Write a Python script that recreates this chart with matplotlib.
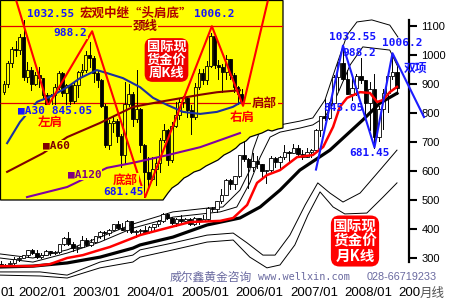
import matplotlib
matplotlib.use('Agg')
import matplotlib.pyplot as plt
from matplotlib.patches import Polygon, Rectangle

plt.rcParams['font.family'] = ['Liberation Sans', 'Noto Sans CJK SC', 'DejaVu Sans']
CJK = ['Noto Sans CJK SC', 'DejaVu Sans']
MONO = ['DejaVu Sans Mono', 'DejaVu Sans']

# ---- monthly candles, 2001/10 .. 2009/03 (month index: 2001/01 = 0)
month0 = 9
m_open = [274, 279, 275, 278, 282, 297, 301, 309, 326, 318, 304, 312, 323, 317, 319,
          347, 368, 348, 334, 337, 361, 346, 354, 375, 388, 386, 398,
          417, 403, 397, 427, 388, 393, 395, 391, 407, 416, 429, 453,
          438, 422, 435, 428, 435, 417, 437, 429, 433, 473, 470, 495,
          517, 569, 556, 582, 654, 643, 613, 633, 623, 599, 604, 646,
          632, 650, 665, 663, 680, 659, 650, 665, 673, 743, 789, 783,
          834, 923, 972, 917, 865, 886, 926, 913, 833, 884, 718, 815,
          870, 927, 942]
m_high = [293, 288, 281, 288, 303, 304, 311, 328, 330, 328, 316, 327, 325, 324, 350,
          372, 389, 354, 341, 375, 370, 364, 377, 393, 394, 400, 417,
          428, 419, 430, 428, 396, 399, 409, 411, 417, 430, 455, 456,
          441, 438, 447, 438, 437, 443, 438, 448, 475, 477, 497, 539,
          571, 572, 584, 654, 730, 645, 663, 652, 625, 605, 651, 649,
          653, 690, 669, 693, 690, 671, 680, 676, 745, 790, 848, 838,
          932, 975, 1032, 948, 932, 935, 988, 915, 906, 934, 825, 882,
          933, 1006, 960]
m_low = [274, 270, 272, 277, 281, 290, 299, 305, 315, 301, 300, 310, 312, 314, 316,
         344, 346, 323, 320, 337, 342, 341, 351, 370, 364, 380, 397,
         399, 396, 390, 385, 371, 381, 387, 387, 398, 410, 424, 434,
         417, 412, 425, 422, 414, 414, 418, 429, 431, 463, 457, 489,
         517, 537, 537, 578, 636, 542, 601, 609, 573, 560, 596, 613,
         603, 643, 635, 661, 650, 641, 647, 648, 670, 722, 775, 780,
         834, 880, 914, 865, 845, 863, 905, 786, 740, 681, 705, 745,
         802, 917, 865]
m_close = [279, 275, 277, 282, 297, 301, 309, 326, 318, 304, 312, 323, 317, 319, 347,
           368, 348, 334, 337, 361, 346, 354, 375, 388, 386, 398, 417,
           403, 397, 427, 388, 393, 395, 391, 407, 416, 429, 453, 438,
           422, 435, 428, 435, 417, 437, 429, 433, 473, 470, 495, 517,
           569, 556, 582, 654, 643, 613, 633, 623, 599, 604, 646, 632,
           650, 665, 663, 680, 659, 650, 665, 673, 743, 789, 783, 834,
           923, 972, 917, 865, 886, 926, 913, 833, 884, 718, 815, 870,
           927, 942, 885]

# moving average lines (month, price)
red_m = [9.8, 17.1, 20.9, 24.7, 28.2, 32, 34.2, 39.3, 40.9, 45.3, 52, 58.7, 61.6, 64.7, 66.9,
         69.1, 72, 75.8, 79.3, 81.6, 83.8, 85.3, 86.9, 89.8, 92, 93.6, 94.9, 96.4, 98]
red_p = [272, 272, 279, 300, 310, 328, 338, 369, 379, 397, 424, 428, 438, 483, 559,
         586, 603, 648, 655, 683, 752, 821, 852, 872, 869, 838, 845, 872, 890]
blk_m = [9.8, 17.1, 24.7, 32, 39.3, 40.9, 48.2, 55.8, 63.1, 67.6, 72, 76.4, 83.1, 90.4, 94.2, 98]
blk_p = [269, 272, 283, 303, 334, 345, 372, 414, 438, 476, 534, 603, 672, 776, 834, 868]

# envelope lines (two above, two below)
u1_m = [9.8, 17.1, 24.7, 32, 39.3, 48.2, 55.8, 59.3, 63.1, 65.3, 66, 68, 72, 76.4, 79.3,
        82, 84.2, 86.9, 89.1, 92.4, 96.4, 98.2]
u1_p = [314, 300, 328, 372, 417, 459, 472, 476, 534, 603, 672, 759, 759, 772, 783,
        845, 948, 1069, 1114, 1121, 1103, 1062]
u2_m = [9.8, 17.1, 24.7, 32, 39.3, 48.2, 58.7, 62.4, 65.3, 67.6, 69.8, 72, 76.4, 79.3,
        82, 84.7, 87.6, 90.4, 96.4, 98.2]
u2_p = [300, 286, 317, 355, 403, 441, 459, 476, 559, 648, 717, 734, 748, 759,
        786, 862, 966, 1028, 1017, 959]
l1_m = [9.8, 18.7, 24.7, 32, 39.3, 40.9, 48.2, 55.8, 61.6, 64.7, 68.2, 70.9, 74.2, 77.6,
        80.4, 83.1, 86, 89.8, 94.2, 98]
l1_p = [252, 252, 241, 286, 310, 328, 352, 379, 386, 352, 310, 310, 379, 483,
        559, 524, 493, 524, 603, 672]
l2_m = [9.8, 18.7, 24.7, 32, 39.3, 40.9, 48.2, 55.8, 61.6, 65.3, 69.1, 72, 75.3, 78.2,
        80.9, 83.8, 86.4, 91.3, 94.9, 98]
l2_p = [241, 238, 231, 266, 286, 303, 328, 355, 362, 303, 266, 276, 345, 448,
        528, 476, 452, 455, 510, 559]

# double-top sketch on the monthly chart
zig_m = [80, 86, 93, 97, 104]
zig_p = [605, 1032.55, 681.45, 1006.2, 786]

x_labels = ['2002/01', '2003/01', '2004/01', '2005/01', '2006/01', '2007/01', '2008/01']

# ---- weekly candles for the inset, 2008/02/15 .. 2009/04/17
w_open = [890, 906, 947, 975, 973, 999, 920, 934, 906, 923, 917, 883, 851, 883, 900, 928,
          887, 903, 871, 904, 929, 934, 962, 957, 927, 913, 862, 785, 828, 831, 803, 765,
          865, 885, 835, 856, 785, 730, 717, 736, 748, 795, 815, 754, 823, 843, 870, 878,
          854, 840, 900, 927, 914, 941, 1001, 943, 940, 930, 954, 924, 899, 885]
w_high = [912, 950, 978, 990, 1005, 1032, 948, 940, 930, 940, 918, 888, 885, 905, 931, 930,
          905, 905, 910, 932, 946, 970, 988, 960, 934, 916, 866, 834, 840, 835, 806, 910,
          905, 890, 934, 857, 786, 760, 760, 758, 799, 825, 816, 830, 870, 875, 882, 880,
          863, 908, 935, 935, 950, 1006, 1002, 953, 945, 962, 955, 927, 902, 895]
w_low = [885, 900, 940, 960, 965, 913, 910, 893, 904, 900, 878, 845, 850, 865, 895, 882,
         865, 860, 868, 880, 923, 930, 940, 910, 900, 860, 781, 776, 810, 791, 740, 748,
         862, 823, 830, 770, 681, 700, 715, 705, 730, 790, 745, 750, 820, 835, 860, 840,
         806, 835, 895, 905, 905, 940, 937, 915, 890, 916, 915, 890, 865, 868]
w_close = [906, 947, 975, 973, 999, 920, 934, 906, 923, 917, 883, 851, 883, 900, 928, 887,
           903, 871, 904, 929, 934, 962, 957, 927, 913, 862, 785, 828, 831, 803, 765, 865,
           885, 835, 856, 785, 730, 717, 736, 748, 795, 815, 754, 823, 843, 870, 878, 854,
           840, 900, 927, 914, 941, 1001, 943, 940, 930, 954, 924, 899, 885, 871]

ma30_w = [0.8, 4.1, 8.5, 11.8, 16.2, 19.5, 23.8, 26.4, 30.5, 34.9, 38.2, 41.8, 45.9, 50.3, 54.6, 58.7, 60.5]
ma30_p = [788, 830, 870, 880, 899, 917, 933, 927, 917, 899, 878, 864, 850, 846, 850, 860, 868]
ma60_w = [0.8, 10, 16.2, 24.6, 33.1, 40, 45.9, 50.3, 54.6, 60.5]
ma60_p = [731, 768, 800, 828, 860, 870, 878, 884, 889, 893]
ma120_w = [5.9, 16.2, 26.4, 33.1, 41.8, 50.3, 60.5]
ma120_p = [681, 701, 739, 749, 764, 780, 808]

hs_w = [2.7, 11.3, 22.6, 36.2, 53.3, 61.3, 68]
hs_p = [1082, 862, 1010, 681, 1020, 862, 1082]
neck_p = 1020
shoulder_p = 868


def draw_candles(a, xs, op, hi, lo, cl, width, up_fc):
    arts = []
    for x, o, h, l, c in zip(xs, op, hi, lo, cl):
        ln, = a.plot([x, x], [l, h], color='black', lw=0.7, zorder=3)
        fc = 'black' if c < o else up_fc
        r = Rectangle((x - width / 2, min(o, c)), width, max(abs(c - o), 1),
                      facecolor=fc, edgecolor='black', lw=0.6, zorder=3)
        a.add_patch(r)
        arts += [ln, r]
    return arts


def px(x, y):
    return x / 450, 1 - y / 300


fig = plt.figure(figsize=(4.5, 3), dpi=100)
fig.patch.set_facecolor('white')

# ---------------- main monthly chart
ax = fig.add_axes([0, 0, 409 / 450, 1])
ax.set_xlim(9.78, 100.67)
ax.set_ylim(155.2, 1189.7)

months = list(range(month0, month0 + len(m_close)))
draw_candles(ax, months, m_open, m_high, m_low, m_close, 0.7, 'white')
for mm, pp in [(u1_m, u1_p), (u2_m, u2_p), (l1_m, l1_p), (l2_m, l2_p)]:
    ax.plot(mm, pp, color='black', lw=0.7, zorder=2)
ax.plot(blk_m, blk_p, color='black', lw=2.3, zorder=4)
ax.plot(red_m, red_p, color='#ff0000', lw=1.8, zorder=4)
ax.plot(zig_m, zig_p, color='#1c1cff', lw=1.5, zorder=5, clip_on=False)

for s in ['top', 'left', 'bottom']:
    ax.spines[s].set_visible(False)
ax.spines['right'].set_bounds(286, 1121)
ax.spines['right'].set_linewidth(1.6)
ax.yaxis.tick_right()
ax.set_yticks(range(300, 1101, 100))
ax.tick_params(axis='y', direction='out', length=6, width=1.5, pad=3, labelsize=8)
ax.set_xticks([])

# year labels, one per 12 months (the 2001/01 one is cut at the left edge)
lab_x = [19.1 + 12.09 * k for k in range(len(x_labels))]
for xv, lab in zip(lab_x, x_labels):
    ax.text(xv, 1 - 293 / 300, lab, transform=ax.get_xaxis_transform(),
            ha='center', va='center', fontsize=9.5)
fig.text(*px(0.5, 293), '01', ha='left', va='center', fontsize=9.5)
fig.text(*px(398, 293), '200', ha='left', va='center', fontsize=9.5)
fig.text(*px(420, 293), '月线', ha='left', va='center', fontsize=9, color='#505050', family=CJK)

fig.text(*px(170, 277), '威尔鑫黄金咨询', ha='left', va='center', fontsize=8.5, color='#6a6aa0', family=CJK)
fig.text(*px(258, 277), 'www.wellxin.com', ha='left', va='center', fontsize=7.3, color='#6a6aa0', family=MONO)
fig.text(*px(367, 277), '028-66719233', ha='left', va='center', fontsize=7.8, color='#6a6aa0')

blue = '#1414ff'
for t, (x, y) in [('1032.55', (352.5, 37.5)), ('988.2', (359.5, 52.5)), ('1006.2', (402, 43)),
                  ('845.05', (344, 107.5)), ('681.45', (369, 152.5))]:
    fig.text(*px(x, y), t, ha='center', va='center', fontsize=8, color=blue,
             family=MONO, weight='bold', zorder=6)
fig.text(*px(415, 68), '双项', ha='center', va='center', fontsize=8.5, color=blue,
         family=CJK, weight='bold', zorder=6)
fig.text(*px(355, 241), '国际现\n货金价\n月K线', ha='center', va='center', fontsize=10.5,
         color='white', family=CJK, weight='bold', linespacing=0.95, zorder=6,
         bbox=dict(boxstyle='round,pad=0.15,rounding_size=0.6', facecolor='#ff0000', edgecolor='none'))

# ---------------- inset weekly chart
ax2 = fig.add_axes([0, 1 / 3, 283 / 450, 2 / 3], zorder=2)
ax2.set_facecolor('none')
ax2.axis('off')
ax2.set_xlim(-1.026, 71.54)
ax2.set_ylim(675.2, 1072)

torn = [(283, 128), (278, 129), (272, 131), (268, 130), (262, 133), (256, 135), (250, 137),
        (246, 141), (240, 144), (236, 148), (230, 152), (224, 155), (218, 160), (212, 163),
        (206, 166), (200, 170), (194, 172), (188, 176), (184, 178), (178, 184), (172, 188),
        (168, 193), (163, 200)]
outline = [(0.5, 0.5), (283, 0.5)] + torn + [(0.5, 200)]
shape = Polygon([(x / 283, 1 - y / 200) for x, y in outline], closed=True,
                transform=ax2.transAxes, facecolor='#ffff00', edgecolor='black',
                lw=0.9, zorder=0, clip_on=False)
ax2.add_patch(shape)

weeks = list(range(len(w_close)))
arts = draw_candles(ax2, weeks, w_open, w_high, w_low, w_close, 0.75, '#ffff00')
arts += ax2.plot([-1.026, 71.54], [neck_p, neck_p], color='#e00000', lw=0.9, zorder=2)
arts += ax2.plot([-1.026, 71.54], [shoulder_p, shoulder_p], color='#e00000', lw=0.9, zorder=2)
arts += ax2.plot(ma30_w, ma30_p, color='#1a2fa0', lw=1.5, zorder=4)
arts += ax2.plot(ma60_w, ma60_p, color='#800000', lw=1.5, zorder=4)
arts += ax2.plot(ma120_w, ma120_p, color='#8000a0', lw=1.5, zorder=4)
arts += ax2.plot(hs_w, hs_p, color='#ff0000', lw=1.5, zorder=5)
for a in arts:
    a.set_clip_path(shape)

ybox = dict(boxstyle='square,pad=0.05', facecolor='#ffff00', edgecolor='none')
inset_text = [
    ('1032.55', 51, 14, blue, MONO, 'center'),
    ('988.2', 70.5, 33, blue, MONO, 'center'),
    ('1006.2', 214, 14, blue, MONO, 'center'),
    ('681.45', 123.5, 192, blue, MONO, 'center'),
    ('■A30 845.05', 18, 110.5, blue, MONO, 'left'),
    ('■A60', 43, 145.5, '#800000', MONO, 'left'),
    ('■A120', 68, 174.5, '#800080', MONO, 'left'),
    ('宏观中继“头肩底”', 136, 13, '#b00000', CJK, 'center'),
    ('颈线', 145, 26, '#a00000', CJK, 'center'),
    ('肩部', 264.5, 103, '#a00000', CJK, 'center'),
    ('左肩', 50, 122, '#ff0000', CJK, 'center'),
    ('右肩', 242.5, 117, '#ff0000', CJK, 'center'),
    ('底部', 125.5, 180, '#ff0000', CJK, 'center'),
]
for t, x, y, col, fam, ha in inset_text:
    fs = 8 if fam is MONO else 9
    fig.text(*px(x, y), t, ha=ha, va='center', fontsize=fs, color=col, family=fam,
             weight='bold', bbox=ybox, zorder=6)
fig.text(*px(166.5, 60), '国际现\n货金价\n周K线', ha='center', va='center', fontsize=9.5,
         color='white', family=CJK, weight='bold', linespacing=0.9, zorder=6,
         bbox=dict(boxstyle='round,pad=0.15,rounding_size=0.6', facecolor='#ee0000', edgecolor='none'))

fig.savefig('out.png', dpi=100, facecolor='white')
